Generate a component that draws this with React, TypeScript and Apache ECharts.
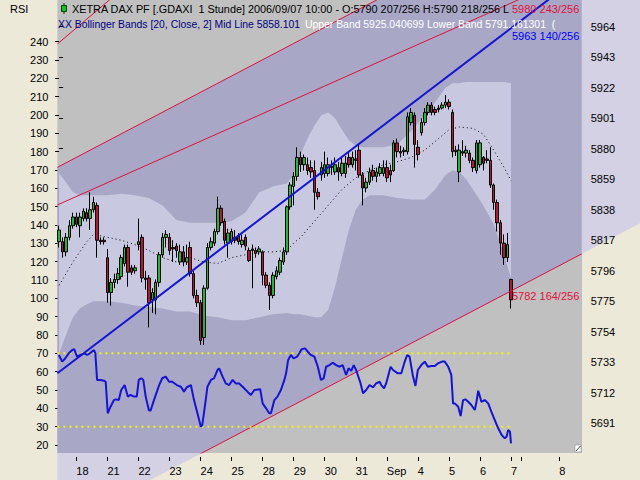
import React, { useEffect, useRef } from "react";
import * as echarts from "echarts";

// ---------- time axis (hourly bars, 9 per trading day) ----------
const slotCount = 152;
const dayTickIndex = [5, 14, 23, 32, 41, 50, 59, 68, 77, 86, 95, 104, 113, 122, 131, 134, 145];
const dayTickText = ["18", "21", "22", "23", "24", "25", "28", "29", "30", "31", "Sep", "4", "5", "6", "7", "", "8"];

// ---------- XETRA DAX hourly candles ----------
const openP = [
  5816, 5816, 5809, 5819, 5827, 5833, 5827, 5832, 5836, 5832,
  5838, 5841, 5817, 5817, 5805, 5781, 5788, 5790, 5792, 5801,
  5812, 5798, 5796, 5814, 5819, 5791, 5791, 5776, 5776, 5788,
  5807, 5819, 5819, 5812, 5813, 5802, 5809, 5802, 5812, 5794,
  5779, 5774, 5750, 5784, 5812, 5815, 5823, 5839, 5830, 5815,
  5816, 5819, 5820, 5814, 5819, 5810, 5811, 5810, 5809, 5809,
  5793, 5786, 5779, 5792, 5795, 5802, 5809, 5840, 5854, 5861,
  5874, 5869, 5869, 5867, 5865, 5850, 5862, 5863, 5863, 5868,
  5864, 5867, 5863, 5863, 5874, 5869, 5873, 5879, 5862, 5853,
  5857, 5865, 5861, 5863, 5863, 5867, 5865, 5865, 5884, 5878,
  5878, 5878, 5898, 5903, 5881, 5891, 5898, 5905, 5910, 5907,
  5908, 5908, 5910, 5912, 5905, 5879, 5864, 5878, 5877, 5877,
  5872, 5865, 5869, 5874, 5873, 5872, 5855, 5843, 5829, 5815, 5805, 5790,
];
const closeP = [
  5824, 5809, 5819, 5827, 5833, 5828, 5833, 5837, 5832, 5838,
  5843, 5817, 5816, 5816, 5781, 5788, 5790, 5794, 5805, 5812,
  5795, 5795, 5798, 5816, 5791, 5790, 5774, 5781, 5788, 5807,
  5819, 5821, 5810, 5811, 5810, 5809, 5802, 5805, 5794, 5779,
  5774, 5748, 5784, 5812, 5816, 5823, 5839, 5829, 5817, 5822,
  5823, 5817, 5816, 5817, 5813, 5803, 5810, 5808, 5811, 5793,
  5786, 5779, 5793, 5796, 5803, 5809, 5840, 5855, 5861, 5874,
  5869, 5874, 5865, 5864, 5850, 5847, 5867, 5869, 5869, 5867,
  5869, 5864, 5870, 5870, 5869, 5874, 5872, 5862, 5853, 5857,
  5864, 5861, 5864, 5867, 5867, 5860, 5862, 5884, 5878, 5877,
  5879, 5902, 5905, 5883, 5876, 5898, 5905, 5910, 5905, 5905,
  5907, 5910, 5912, 5909, 5878, 5878, 5879, 5877, 5879, 5872,
  5867, 5884, 5884, 5870, 5872, 5855, 5843, 5829, 5815, 5805, 5814, 5776,
];
const highP = [
  5827, 5819, 5822, 5831, 5836, 5836, 5836, 5839, 5839, 5850,
  5847, 5843, 5819, 5819, 5811, 5791, 5794, 5798, 5807, 5814,
  5814, 5800, 5800, 5832, 5821, 5796, 5793, 5784, 5790, 5809,
  5822, 5824, 5822, 5817, 5815, 5814, 5813, 5814, 5816, 5796,
  5783, 5776, 5786, 5815, 5819, 5825, 5847, 5841, 5832, 5825,
  5825, 5824, 5822, 5821, 5821, 5812, 5814, 5812, 5813, 5810,
  5795, 5788, 5795, 5799, 5805, 5812, 5841, 5857, 5864, 5881,
  5878, 5876, 5874, 5872, 5872, 5853, 5871, 5878, 5874, 5872,
  5874, 5871, 5874, 5875, 5878, 5878, 5879, 5883, 5864, 5860,
  5867, 5869, 5867, 5870, 5872, 5872, 5869, 5886, 5887, 5882,
  5881, 5905, 5908, 5905, 5886, 5901, 5908, 5912, 5912, 5909,
  5910, 5912, 5917, 5914, 5907, 5882, 5883, 5886, 5882, 5879,
  5874, 5886, 5886, 5875, 5879, 5881, 5856, 5845, 5831, 5821, 5822, 5790.5,
];
const lowP = [
  5812, 5805, 5806, 5817, 5825, 5826, 5819, 5830, 5830, 5824,
  5836, 5805, 5814, 5814, 5774, 5772, 5784, 5787, 5790, 5799,
  5785, 5793, 5794, 5810, 5788, 5783, 5757, 5767, 5766, 5785,
  5805, 5812, 5807, 5802, 5805, 5800, 5799, 5800, 5792, 5777,
  5771, 5745, 5745, 5783, 5810, 5813, 5821, 5827, 5814, 5805,
  5814, 5815, 5814, 5812, 5810, 5802, 5784, 5805, 5807, 5786,
  5784, 5769, 5777, 5790, 5793, 5800, 5807, 5838, 5841, 5858,
  5864, 5865, 5862, 5860, 5838, 5845, 5858, 5860, 5861, 5862,
  5862, 5858, 5861, 5860, 5867, 5867, 5865, 5860, 5841, 5850,
  5855, 5858, 5857, 5861, 5861, 5857, 5857, 5864, 5874, 5874,
  5875, 5876, 5896, 5867, 5872, 5889, 5896, 5903, 5903, 5903,
  5905, 5907, 5908, 5907, 5874, 5875, 5857, 5875, 5874, 5870,
  5864, 5863, 5867, 5865, 5870, 5853, 5838, 5823, 5807, 5800, 5802, 5770,
];

// ---------- Bollinger Bands [20, Close, 2] ----------
const bandX = [0, 2, 4, 6, 8, 10, 14, 18, 22, 26, 30, 34, 38, 42, 46, 50, 54, 58, 62, 66, 68, 70, 72, 74, 76, 78, 80, 82, 84, 86, 88, 90, 94, 98, 102, 106, 109, 112, 114, 116, 118, 120, 123, 126, 129, 131];
const bandUpper = [
  5863, 5857, 5850, 5848, 5848, 5848, 5848, 5849, 5848, 5846,
  5841, 5831, 5829, 5829, 5829, 5830, 5836, 5850, 5854, 5856,
  5862, 5876, 5887, 5896, 5903, 5905, 5901, 5893, 5886, 5882,
  5881, 5881, 5881, 5883, 5892, 5903, 5912, 5922, 5925, 5925,
  5926, 5926, 5926, 5926, 5926, 5925,
];
const bandLower = [
  5739, 5752, 5764, 5770, 5773, 5775, 5775, 5774, 5772, 5771,
  5770, 5768, 5768, 5765, 5764, 5762, 5762, 5764, 5766, 5767,
  5766, 5766, 5765, 5764, 5764, 5769, 5785, 5805, 5824, 5838,
  5845, 5848, 5848, 5846, 5845, 5845, 5852, 5862, 5865, 5864,
  5859, 5852, 5841, 5828, 5807, 5791,
];
const midX = [0, 4, 8, 10, 14, 18, 22, 26, 30, 34, 38, 42, 46, 50, 54, 58, 62, 66, 68, 70, 74, 78, 82, 86, 90, 94, 98, 102, 106, 110, 113, 116, 120, 123, 126, 129, 131];
const midLine = [
  5786, 5802, 5816, 5821, 5819, 5817, 5814, 5810, 5805, 5802,
  5805, 5802, 5801, 5805, 5807, 5809, 5809, 5810, 5815, 5819,
  5830, 5841, 5852, 5860, 5865, 5869, 5871, 5874, 5879, 5887,
  5893, 5895, 5894, 5890, 5879, 5867, 5858,
];

// ---------- drawn trend lines: [bar index, price] anchors ----------
const channelTop = [[-0.5, 5867.2], [151.5, 6056.4]];
const channelBottom = [[-0.5, 5618.4], [151.5, 5807.6]];
const redTrend = [[-0.5, 5841.3], [151.5, 6001.9]];
const steepTrend = [[-0.5, 5952.1], [30, 6013.4]];
const blueTrend = [[-0.5, 5725.4], [151.5, 6000.0]];
const lastBar = 131;
const trendLabelText = ["5980 243/256", "5963 140/256", "5782 164/256"];
const trendLabelPrice = [5980, 5963, 5782];

// ---------- RSI ----------
const rsiPoints = [
  [-0.1, 69.1], [0.9, 65.5], [1.8, 67.3], [2.8, 70.0], [3.8, 71.8], [4.4, 72.2], [5.2, 68.2], [6.2, 69.1], [7.2, 70.0], [8.1, 69.1],
  [8.9, 70.0], [10.1, 71.8], [10.5, 70.0], [11.0, 55.5], [12.0, 55.5], [13.0, 55.1], [13.5, 54.5], [14.1, 37.3], [14.9, 40.9], [15.9, 44.5],
  [16.4, 44.9], [17.3, 44.5], [18.0, 50.0], [19.0, 52.7], [19.9, 46.4], [20.7, 47.3], [21.7, 46.4], [22.5, 46.4], [23.1, 55.5], [23.8, 56.4],
  [24.4, 55.5], [25.1, 46.4], [26.0, 39.1], [26.5, 38.7], [27.5, 44.5], [29.0, 52.7], [29.9, 56.4], [30.9, 57.3], [31.9, 54.5], [32.8, 54.5],
  [34.1, 52.7], [35.3, 51.8], [36.2, 49.1], [37.0, 51.5], [38.2, 52.7], [39.1, 44.5], [40.1, 37.3], [41.1, 30.0], [41.5, 30.9], [42.5, 44.5],
  [43.0, 51.8], [44.0, 55.5], [44.9, 56.4], [45.9, 60.9], [46.4, 61.8], [47.4, 57.3], [48.3, 53.6], [49.3, 52.7], [50.3, 55.5], [51.2, 53.6],
  [52.2, 53.6], [53.2, 51.8], [54.6, 49.1], [55.6, 47.3], [56.6, 50.0], [58.3, 50.4], [59.0, 42.7], [60.0, 40.0], [60.9, 37.3], [61.4, 37.3],
  [62.4, 44.5], [63.3, 46.4], [64.3, 50.0], [65.3, 55.5], [65.8, 59.1], [66.4, 66.4], [67.2, 69.1], [68.0, 67.3], [69.0, 68.2], [69.6, 70.0],
  [70.3, 72.2], [71.3, 72.7], [72.1, 70.9], [73.0, 69.1], [74.0, 68.2], [75.0, 62.7], [75.9, 55.5], [76.7, 56.4], [77.4, 62.7], [78.4, 63.6],
  [79.3, 64.9], [80.3, 63.6], [81.3, 62.7], [82.2, 63.6], [83.2, 58.2], [83.9, 61.8], [84.7, 60.5], [85.4, 63.6], [86.1, 60.9], [87.4, 53.6],
  [88.1, 48.2], [89.0, 50.0], [90.0, 52.7], [91.0, 51.5], [91.9, 53.6], [92.9, 54.5], [93.4, 52.7], [94.2, 50.9], [94.8, 53.6], [96.1, 62.7],
  [96.8, 60.9], [98.2, 59.1], [99.2, 59.1], [100.2, 65.5], [100.9, 69.1], [101.6, 68.2], [102.6, 57.3], [103.3, 52.2], [104.0, 60.9], [105.0, 63.6],
  [106.0, 65.5], [106.9, 62.7], [107.9, 63.1], [108.9, 63.1], [109.8, 64.5], [111.0, 65.5], [111.8, 65.5], [112.8, 62.7], [113.7, 58.2], [114.2, 42.7],
  [114.7, 42.7], [115.7, 40.9], [116.4, 35.8], [117.1, 44.5], [117.8, 44.9], [118.6, 43.6], [119.5, 41.8], [120.5, 39.1], [121.0, 43.6], [121.5, 49.6],
  [122.0, 46.4], [122.4, 43.6], [123.4, 44.5], [124.4, 42.7], [125.3, 38.2], [126.3, 33.6], [127.3, 29.1], [128.3, 25.5], [129.2, 23.6], [129.7, 24.5],
  [130.2, 28.2], [130.7, 27.3], [131.0, 20.9],
];
const rsiLevels = [70, 30];

// ---------- axes ----------
const priceTickMin = 5691;
const priceTickMax = 5964;
const priceTickStep = 21;
const rsiTickMin = 20;
const rsiTickMax = 240;
const rsiTickStep = 10;

// ---------- texts ----------
const headerLine1 = "XETRA DAX PF [.GDAXI  1 Stunde] 2006/09/07 10:00 - O:5790 207/256 H:5790 218/256 L:5781 164/256";
const headerLine2a = "XX Bollinger Bands [20, Close, 2] Mid Line 5858.101";
const headerLine2b = "Upper Band 5925.040699 Lower Band 5791.161301  (.GDAXI  1 Stunde)";

const FONT = "Liberation Sans";
const PLOT_L = 57.4;
const PLOT_R = 581.7;
const PLOT_T = 0;
const PLOT_B = 453;
const VIEW_MIN = 5670.55;
const VIEW_MAX = 5982.38;

const C_GRAY = "#c0c0c0";
const C_CHANNEL = "#a8a8c6";
const C_BAND = "#c8c8e0";
const C_OUTSIDE = "#d3d1e3";
const C_RED = "#e0103c";
const C_BLUE = "#1414d8";

export default function App() {
  const ref = useRef<HTMLDivElement>(null);
  useEffect(() => {
    if (!ref.current) return;
    const chart = echarts.init(ref.current, undefined, { renderer: "svg" });
    const xMin = -0.5;
    const xMax = slotCount - 0.5;
    const W = PLOT_R - PLOT_L;
    const cats = Array.from({ length: slotCount }, (_, i) => String(i));
    const tickMap: Record<number, string> = {};
    dayTickIndex.forEach((d, i) => (tickMap[d] = dayTickText[i]));
    const showTick = (idx: number) => Object.prototype.hasOwnProperty.call(tickMap, idx);

    const areaLine = (data: number[][], color: string, z: number) => ({
      type: "line",
      xAxisIndex: 0,
      yAxisIndex: 0,
      data,
      symbol: "none",
      silent: true,
      lineStyle: { width: 0, opacity: 0 },
      areaStyle: { color, opacity: 1, origin: "start" },
      z,
    });
    const plainLine = (data: number[][], color: string, width: number, z: number, type: any = "solid") => ({
      type: "line",
      xAxisIndex: 0,
      yAxisIndex: 0,
      data,
      symbol: "none",
      silent: true,
      lineStyle: { color, width, type },
      z,
    });

    const option: any = {
      animation: false,
      backgroundColor: "#ece9d8",
      textStyle: { fontFamily: FONT, fontSize: 11 },
      grid: [
        { left: PLOT_L, top: PLOT_T, width: W, height: PLOT_B - PLOT_T, show: true, backgroundColor: C_GRAY, borderWidth: 0 },
        { left: PLOT_L, top: 26.7, width: W, height: 396.6, show: false },
        { left: PLOT_L, top: 41.7, width: W, height: 403.3, show: false },
      ],
      xAxis: [
        { gridIndex: 0, type: "value", min: xMin, max: xMax, show: false },
        {
          gridIndex: 0,
          type: "category",
          data: cats,
          boundaryGap: true,
          position: "bottom",
          offset: 4,
          axisLine: { show: false },
          axisTick: { show: true, alignWithLabel: true, length: 4, interval: (i: number) => showTick(i), lineStyle: { color: "#000" } },
          axisLabel: {
            interval: (i: number) => showTick(i),
            formatter: (_v: string, i: number) => tickMap[i] ?? "",
            align: "left",
            margin: 8,
            color: "#000",
            fontSize: 11,
            fontFamily: FONT,
          },
          splitLine: { show: false },
        },
        { gridIndex: 1, type: "value", min: xMin, max: xMax, show: false },
        { gridIndex: 2, type: "value", min: xMin, max: xMax, show: false },
      ],
      yAxis: [
        { gridIndex: 0, type: "value", min: VIEW_MIN, max: VIEW_MAX, show: false },
        {
          gridIndex: 1,
          type: "value",
          position: "right",
          min: priceTickMin,
          max: priceTickMax,
          interval: priceTickStep,
          offset: 3,
          axisLine: { show: false },
          axisTick: { show: true, length: 4, lineStyle: { color: "#000" } },
          axisLabel: { margin: 6, color: "#000", fontSize: 11, fontFamily: FONT, formatter: (v: number) => String(v) },
          splitLine: { show: false },
        },
        {
          gridIndex: 2,
          type: "value",
          position: "left",
          min: rsiTickMin,
          max: rsiTickMax,
          interval: rsiTickStep,
          offset: 4,
          axisLine: { show: false },
          axisTick: { show: true, length: 4, lineStyle: { color: "#000" } },
          axisLabel: { margin: 5, color: "#000", fontSize: 11, fontFamily: FONT, formatter: (v: number) => String(v) },
          splitLine: { show: false },
        },
      ],
      series: [
        areaLine(channelTop, C_CHANNEL, 1),
        areaLine(bandX.map((x, i) => [x, bandUpper[i]]), C_BAND, 2),
        areaLine(bandX.map((x, i) => [x, bandLower[i]]), C_CHANNEL, 3),
        areaLine(channelBottom, C_GRAY, 4),
        plainLine(midX.map((x, i) => [x, midLine[i]]), "#000", 1, 5, [1, 3]),
        {
          type: "candlestick",
          xAxisIndex: 1,
          yAxisIndex: 0,
          data: openP.map((o, i) => [o, closeP[i], lowP[i], highP[i]]),
          barWidth: 3,
          silent: true,
          itemStyle: { color: "#10c030", color0: "#c01038", borderColor: "#000", borderColor0: "#000", borderWidth: 1 },
          z: 6,
        },
        plainLine(channelTop, C_RED, 1, 7),
        plainLine(channelBottom, C_RED, 1, 7),
        plainLine(redTrend, C_RED, 1, 7),
        plainLine(steepTrend, C_RED, 1, 7),
        plainLine(blueTrend, C_BLUE, 2, 7),
        ...rsiLevels.map((lv) => ({
          type: "line",
          xAxisIndex: 3,
          yAxisIndex: 2,
          data: [[xMin, lv], [lastBar, lv]],
          symbol: "none",
          silent: true,
          lineStyle: { color: "#f4f400", width: 2, type: [2, 4] },
          z: 8,
        })),
        {
          type: "line",
          xAxisIndex: 3,
          yAxisIndex: 2,
          data: rsiPoints,
          symbol: "none",
          silent: true,
          lineStyle: { color: C_BLUE, width: 2 },
          z: 9,
        },
      ],
    };
    chart.setOption(option);

    const px = (x: number, y: number) => chart.convertToPixel({ xAxisIndex: 0, yAxisIndex: 0 }, [x, y]) as number[];
    const d0 = px(channelBottom[0][0], channelBottom[0][1]);
    const d1 = px(channelBottom[1][0], channelBottom[1][1]);
    const slope = (d1[1] - d0[1]) / (d1[0] - d0[0]);
    const yAt = (x: number) => d0[1] + slope * (x - d0[0]);
    const xAt = (y: number) => d0[0] + (y - d0[1]) / slope;
    const labelColors = [C_RED, "#0000ff", C_RED];
    const labelDy = [6, 7.5, 5];

    const txt = (text: string, x: number, y: number, fill: string, size: number, extra: any = {}) => ({
      type: "text",
      z: 100,
      silent: true,
      style: { text, x, y, fill, font: `${size}px "${FONT}"`, verticalAlign: "middle", lineHeight: size, ...extra },
    });
    const labelLeft = px(lastBar, trendLabelPrice[0])[0] + 1;

    chart.setOption({
      graphic: [
        {
          type: "polygon",
          z: 0,
          silent: true,
          shape: { points: [[PLOT_R, 0], [640, 0], [640, yAt(640)], [PLOT_R, yAt(PLOT_R)]] },
          style: { fill: C_OUTSIDE },
        },
        {
          type: "polygon",
          z: 0,
          silent: true,
          shape: { points: [[PLOT_L, PLOT_B], [xAt(PLOT_B), PLOT_B], [xAt(480), 480], [PLOT_L, 480]] },
          style: { fill: C_OUTSIDE },
        },
        txt("RSI", 10, 9, "#000", 11),
        {
          type: "line",
          z: 100,
          silent: true,
          shape: { x1: 64, y1: 3, x2: 64, y2: 14 },
          style: { stroke: "#004000", lineWidth: 1 },
        },
        {
          type: "rect",
          z: 101,
          silent: true,
          shape: { x: 61.5, y: 5.5, width: 5, height: 6 },
          style: { fill: "#10c030", stroke: "#004000", lineWidth: 1 },
        },
        txt(headerLine1, 72, 9, "#000", 10.85, { width: labelLeft - 72, overflow: "truncate", ellipsis: "" }),
        txt(headerLine2a, 58, 24, "#000080", 10.4),
        txt(headerLine2b, 305, 24, "#ffffff", 10.4, { width: PLOT_R - 305, overflow: "truncate", ellipsis: "" }),
        ...trendLabelText.map((t, i) => {
          const p = px(lastBar, trendLabelPrice[i]);
          return txt(t, p[0] + 1, p[1] + labelDy[i], labelColors[i], 11, { width: PLOT_R - p[0] - 1, overflow: "truncate", ellipsis: "" });
        }),
        {
          type: "rect",
          z: 100,
          silent: true,
          shape: { x: 575, y: 445, width: 6, height: 7 },
          style: { fill: "#ffffff", stroke: "#808080", lineWidth: 0.5 },
        },
        {
          type: "line",
          z: 101,
          silent: true,
          shape: { x1: 576, y1: 451, x2: 580.5, y2: 446 },
          style: { stroke: "#404040", lineWidth: 1 },
        },
      ],
    });

    return () => chart.dispose();
  }, []);
  return <div ref={ref} style={{ position: "fixed", left: 0, top: 0, width: 640, height: 480 }} />;
}
